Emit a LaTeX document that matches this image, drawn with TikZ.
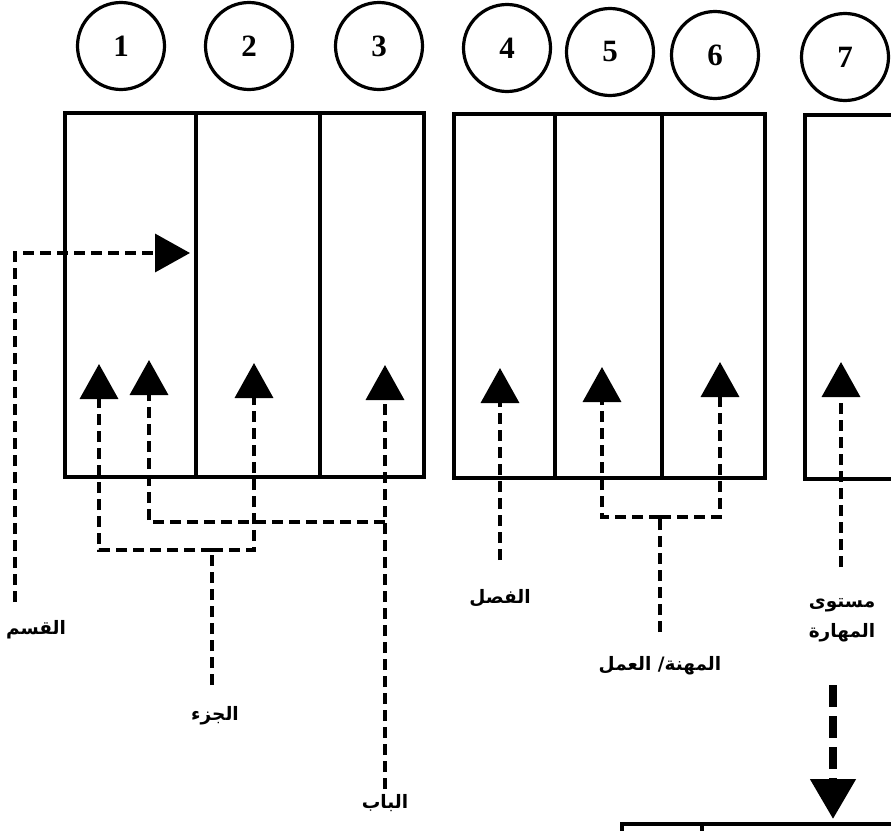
\documentclass[tikz,border=0pt]{standalone}
\usepackage{fontspec}
\usetikzlibrary{arrows.meta}
\TeXXeTstate=1
\newfontfamily\arabicfont[Script=Arabic]{DejaVu Sans}
\newfontfamily\digitfont{Liberation Serif}
\begin{document}
\begin{tikzpicture}[x=1pt,y=-1pt,
  num/.style={circle,draw,line width=3.2pt,minimum size=87pt,inner sep=0pt,
    font=\digitfont\bfseries\fontsize{31}{31}\selectfont},
  col/.style={rectangle,draw,line width=3.8pt,anchor=north west,inner sep=0pt,
    minimum height=364pt,minimum width=#1},
  lab/.style={font=\arabicfont\bfseries\fontsize{18.5}{30}\selectfont,align=center,inner sep=1pt},
  dline/.style={line width=3.6pt,dash pattern=on 11pt off 6pt},
  tip/.style={-{Triangle[length=35pt,width=38pt]}},
  bigdash/.style={line width=8pt,dash pattern=on 22pt off 9pt,
    -{Triangle[length=40pt,width=44pt]}}]
\useasboundingbox (0,0) rectangle (891,830);
\clip (0,0) rectangle (891,830);

% numbered circles
\node[num] (n1) at (121,46) {1};
\node[num] (n2) at (249,46) {2};
\node[num] (n3) at (379,46) {3};
\node[num] (n4) at (507,48) {4};
\node[num] (n5) at (610,52) {5};
\node[num] (n6) at (715,55) {6};
\node[num] (n7) at (845,57) {7};

% columns of the code
\node[col=131pt] (c1) at (63,111) {};
\node[col=124pt] (c2) at (194,111) {};
\node[col=104pt] (c3) at (318,111) {};
\node[col=101pt] (c4) at (452,112) {};
\node[col=107pt] (c5) at (553,112) {};
\node[col=103pt] (c6) at (660,112) {};
\node[col=110pt] (c7) at (803,113) {};

% the table below
\node[rectangle,draw,line width=3.8pt,anchor=north west,inner sep=0pt,
  minimum width=80pt,minimum height=30pt] (r1) at (620,822) {};
\node[rectangle,draw,line width=3.8pt,anchor=north west,inner sep=0pt,
  minimum width=220pt,minimum height=30pt] (r2) at (700,822) {};

% labels
\node[lab] (lqism) at (36,630) {\beginR القسم\endR};
\node[lab] (ljuz) at (215,716) {\beginR الجزء\endR};
\node[lab] (lbab) at (385,803) {\beginR الباب\endR};
\node[lab] (lfasl) at (500,598) {\beginR الفصل\endR};
\node[lab] (lmihna) at (660,666) {\beginR المهنة/ العمل\endR};
\node[lab] (lmust) at (842,620) {\beginR مستوى\endR\\\beginR المهارة\endR};

% arrow tips inside the columns
\coordinate (tq) at (190,253);
\coordinate (t1) at (99,364);
\coordinate (t2) at (149,360);
\coordinate (t3) at (254,363);
\coordinate (t4) at (385,365);
\coordinate (t5) at (500,368);
\coordinate (t6) at (602,367);
\coordinate (t7) at (720,362);
\coordinate (t8) at (841,362);

% free ends and junctions
\coordinate (q0) at (15,602);
\coordinate (j0) at (212,685);
\coordinate (j1) at (212,550);
\coordinate (b0) at (385,789);
\coordinate (b1) at (385,522);
\coordinate (f0) at (500,560);
\coordinate (m0) at (660,632);
\coordinate (m1) at (660,517);
\coordinate (s0) at (841,567);
\coordinate (d0) at (833,685);
\coordinate (d1) at (833,819);

% dashed connectors
\draw[dline,tip] (q0) |- (tq);
\draw[dline] (j0) -- (j1);
\draw[dline,tip] (j1) -| (t1);
\draw[dline,tip] (j1) -| (t3);
\draw[dline,tip] (b0) -- (t4);
\draw[dline,tip] (b1) -| (t2);
\draw[dline,tip] (f0) -- (t5);
\draw[dline] (m0) -- (m1);
\draw[dline,tip] (m1) -| (t6);
\draw[dline,tip] (m1) -| (t7);
\draw[dline,tip] (s0) -- (t8);
\draw[bigdash] (d0) -- (d1);
\end{tikzpicture}
\end{document}
